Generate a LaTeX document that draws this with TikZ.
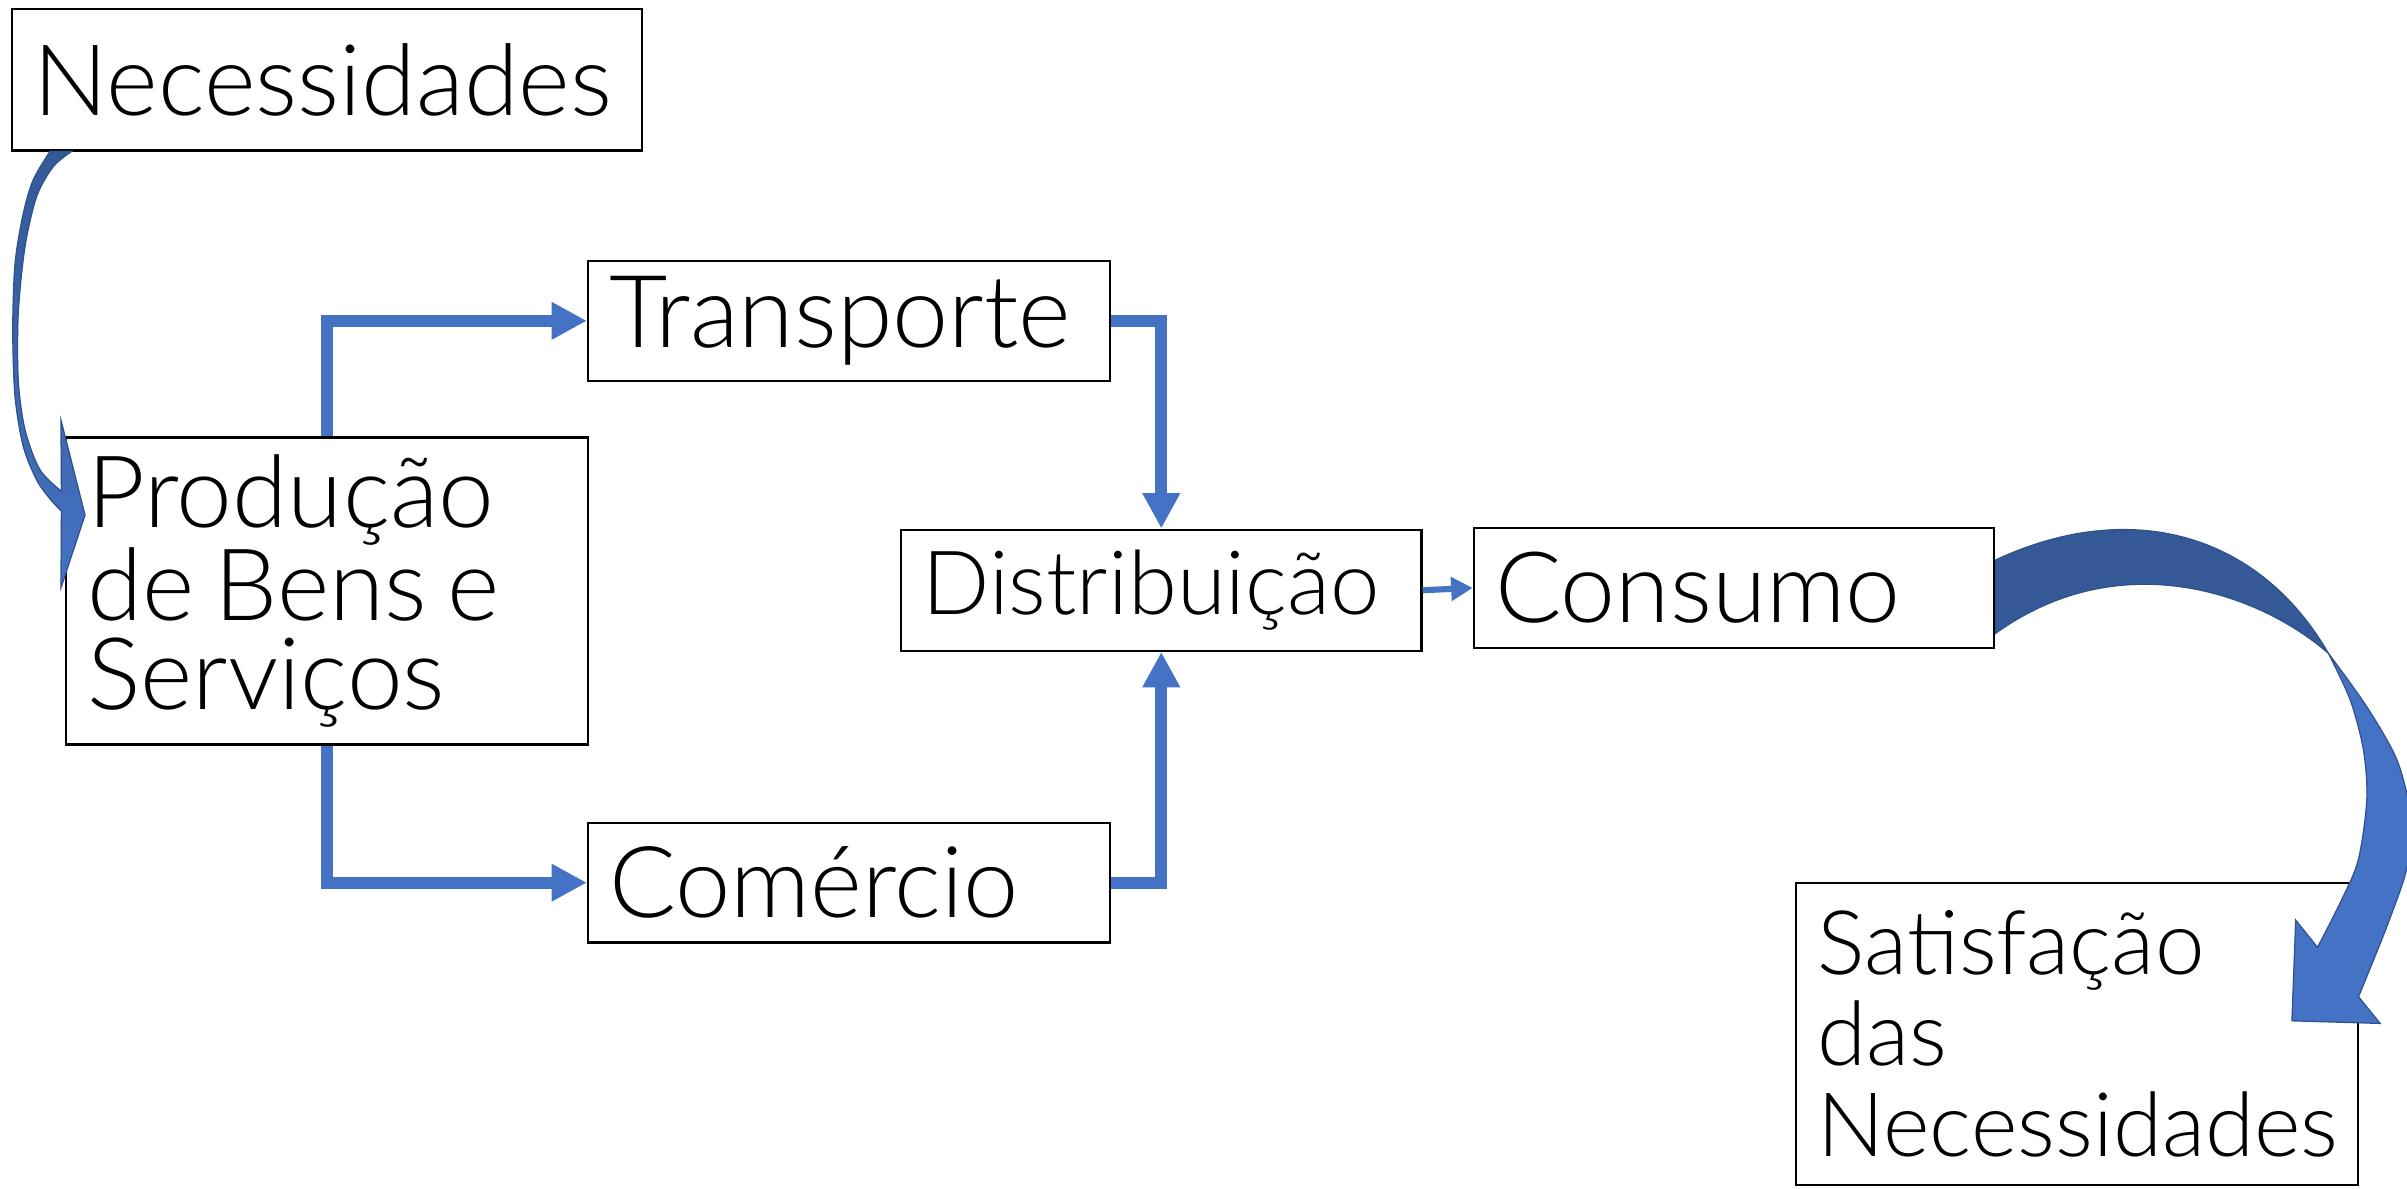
\documentclass[tikz,border=0pt]{standalone}
\usepackage{fontspec}
\setmainfont{Lato}[UprightFont={* Light}]
\usetikzlibrary{arrows.meta}
\definecolor{ablue}{RGB}{68,114,196}
\definecolor{dblue}{RGB}{52,89,150}
\definecolor{oblue}{RGB}{47,82,143}
\newcommand\tightwords{\spaceskip=0.2em\relax}
\begin{document}
\begin{tikzpicture}[x=0.5pt,y=-0.5pt,
  box/.style={draw=black, line width=0.7pt, inner xsep=7pt, inner ysep=0pt, align=left, fill=white},
  fs/.style={font=\fontsize{#1}{29}\selectfont},
  conn/.style={draw=ablue, line width=4pt, -{Triangle[length=11.5pt,width=11.5pt]}},
  thinconn/.style={draw=ablue, line width=2pt, -{Triangle[length=7pt,width=7.5pt]}},
  bigarrow/.style={draw=oblue, line width=0.4pt}
  ]
\useasboundingbox (0,0) rectangle (1568,774);
\fill[white] (0,0) rectangle (1568,774);

\node[box, fs=32.2, minimum width=205pt, minimum height=46pt, text width=191pt] (nec) at (213,52) {Necessidades};
\node[box, fs=32.8, minimum width=170pt, minimum height=39pt, text width=156pt] (trans) at (553,209) {Transporte};
\node[box, fs=32.6, minimum width=170pt, minimum height=100pt, text width=156pt] (prod) at (213,385) {\tightwords Produção\\de Bens e\\Serviços};
\node[box, fs=28.9, minimum width=169.5pt, minimum height=39.5pt, text width=155.5pt] (dist) at (756.5,384.5) {Distribuição};
\node[box, fs=32.1, minimum width=169.5pt, minimum height=39pt, text width=155.5pt] (cons) at (1129.5,383) {Consumo};
\node[box, fs=32.3, minimum width=170pt, minimum height=39pt, text width=156pt] (com) at (553,575) {Comércio};
\node[box, font=\fontsize{29}{29.5}\selectfont, minimum width=183pt, minimum height=98.5pt, text width=169pt] (sat) at (1353,673.5) {Satisfação\\das\\Necessidades};

\draw[conn] (prod.north) |- (trans.west);
\draw[conn] (prod.south) |- (com.west);
\draw[conn] (trans.east) -| (dist.north);
\draw[conn] (com.east) -| (dist.south);
\draw[thinconn] (dist.east) -- (cons.west);

% curved arrow Necessidades -> Producao
\shadedraw[bigarrow, top color=dblue, bottom color=ablue]
  plot[smooth] coordinates {(46.7,98.6) (34.7,108.6) (23.9,128) (16.3,160.7) (11.9,204) (11.9,247.5) (16.3,280) (26,306) (40,320)}
  -- (39.7,273.6) -- (55.4,335.5) -- (39.7,383) -- (40,333)
  -- plot[smooth] coordinates {(40,333) (32.6,325) (23.9,312.7) (15.2,291) (9.8,258.4) (8.3,215) (9.8,171.6) (15.2,138.9) (21.7,117) (32.6,98.6)}
  -- cycle;

% curved arrow Consumo -> Satisfacao
\filldraw[bigarrow, fill=dblue]
  (1300,364.8) .. controls (1385,325) and (1470,345) .. (1516.8,425.6)
  .. controls (1470,385) and (1380,355) .. (1300,412.6) -- cycle;
\filldraw[bigarrow, fill=ablue]
  plot[smooth] coordinates {(1516.8,425.6) (1541.8,460.4) (1561.4,495) (1570,530) (1568,565) (1554.8,603.7) (1536.4,649.3)}
  -- (1550.5,666.7) -- (1493,665) -- (1495.5,599.4) -- (1509.7,617.1)
  -- plot[smooth] coordinates {(1509.7,617.1) (1525.5,586) (1536.3,560) (1541.8,521) (1539.6,488.6) (1531,456) (1516.8,425.6)}
  -- cycle;
\end{tikzpicture}
\end{document}
